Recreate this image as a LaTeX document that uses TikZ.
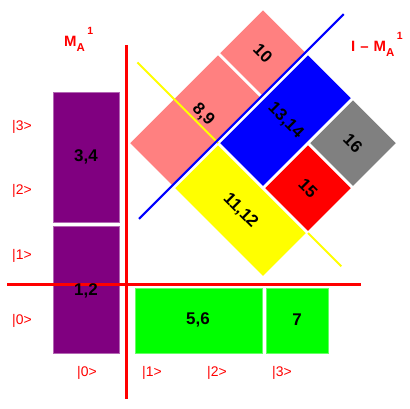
\documentclass[tikz,border=0pt]{standalone}
\usepackage{fontspec}
\setmainfont{Liberation Sans}
\definecolor{cpurple}{HTML}{800080}
\definecolor{cpink}{HTML}{FF8080}
\definecolor{cblue}{HTML}{0000FF}
\definecolor{cgray}{HTML}{808080}
\definecolor{cred}{HTML}{FF0000}
\definecolor{cyellow}{HTML}{FFFF00}
\definecolor{cgreen}{HTML}{00FF00}
\tikzset{
  numlbl/.style={text=black,font=\fontsize{17}{17}\selectfont\bfseries,inner sep=0pt},
  ketlbl/.style={text=cred,font=\fontsize{14}{14}\selectfont,inner sep=0pt},
  axis/.style={draw=cred,line width=2.5bp},
  blockp/.style={fill=cpurple,draw=cpurple!60!white,line width=0.6bp},
  blockg/.style={fill=cgreen,draw=cgreen!60!white,line width=0.6bp},
}
\newcommand{\MAone}{{\fontsize{15}{15}\selectfont\bfseries M}\raisebox{-4.5bp}{\fontsize{11.5}{11.5}\selectfont\bfseries A}\hspace{2.5bp}\raisebox{12bp}{\fontsize{10.5}{10.5}\selectfont\bfseries 1}}
\begin{document}
\begin{tikzpicture}[x=1bp,y=-1bp]
\useasboundingbox (0,0) rectangle (410,409);
% purple and green blocks
\path[blockp] (53,92) rectangle (119,222);
\path[blockp] (53,226) rectangle (119,353);
\path[blockg] (135,288) rectangle (262,353);
\path[blockg] (266,288) rectangle (328,353);
\node[numlbl] (n34) at (86,157) {3,4};
\node[numlbl] (n56) at (198,320) {5,6};
\node[numlbl] (n7) at (297,320) {7};
% axes
\draw[axis] (126.5,45) -- (126.5,399);
\draw[axis] (7,284.5) -- (361,284.5);
\node[numlbl] (n12) at (86,291) {1,2};
% rotated grid
\begin{scope}[shift={(218,143)},x={(45bp,-45bp)},y={(45bp,45bp)}]
\def\g{0.025}
\fill[cpink] (-1+\g,-1+\g) -- (-\g,-1+\g) -- (-\g,1-\g) -- (-1+\g,1-\g) -- cycle;
\fill[cpink] (-1+\g,1+\g) -- (-\g,1+\g) -- (-\g,2-\g) -- (-1+\g,2-\g) -- cycle;
\draw[cyellow,line width=2bp] (-1.79,0) -- (0,0);
\draw[cyellow,line width=2bp] (2,0) -- (2.74,0);
\fill[cblue] (\g,\g) -- (1-\g,\g) -- (1-\g,2-\g) -- (\g,2-\g) -- cycle;
\fill[cyellow] (\g,-1+\g) -- (2-\g,-1+\g) -- (2-\g,-\g) -- (\g,-\g) -- cycle;
\fill[cred] (1+\g,\g) -- (2-\g,\g) -- (2-\g,1-\g) -- (1+\g,1-\g) -- cycle;
\fill[cgray] (1+\g,1+\g) -- (2-\g,1+\g) -- (2-\g,2-\g) -- (1+\g,2-\g) -- cycle;
\draw[cblue,line width=2bp] (-0.035,-1.72) -- (-0.035,2.83);
\node[numlbl,rotate=-45] (n89) at (-0.48,0.15) {8,9};
\node[numlbl,rotate=-45] (n10) at (-0.5,1.5) {10};
\node[numlbl,rotate=-45] (n1314) at (0.5,1) {13,14};
\node[numlbl,rotate=-45] (n1112) at (1,-0.5) {11,12};
\node[numlbl,rotate=-45] (n15) at (1.5,0.5) {15};
\node[numlbl,rotate=-45] (n16) at (1.5,1.5) {16};
\end{scope}
% ket labels
\node[ketlbl] (l3) at (22,127) {|3>};
\node[ketlbl] (l2) at (22,191) {|2>};
\node[ketlbl] (l1) at (22,256) {|1>};
\node[ketlbl] (l0) at (22,321) {|0>};
\node[ketlbl] (b0) at (87,373) {|0>};
\node[ketlbl] (b1) at (152,373) {|1>};
\node[ketlbl] (b2) at (217,373) {|2>};
\node[ketlbl] (b3) at (282,373) {|3>};
% titles
\node[text=cred,anchor=base west,inner sep=0pt] (tma) at (64,46.7) {\MAone};
\node[text=cred,anchor=base west,inner sep=0pt] (tima) at (351,51.7) {{\fontsize{15}{15}\selectfont\bfseries I\hspace{5bp}--\hspace{5bp}}\MAone};
\end{tikzpicture}
\end{document}
